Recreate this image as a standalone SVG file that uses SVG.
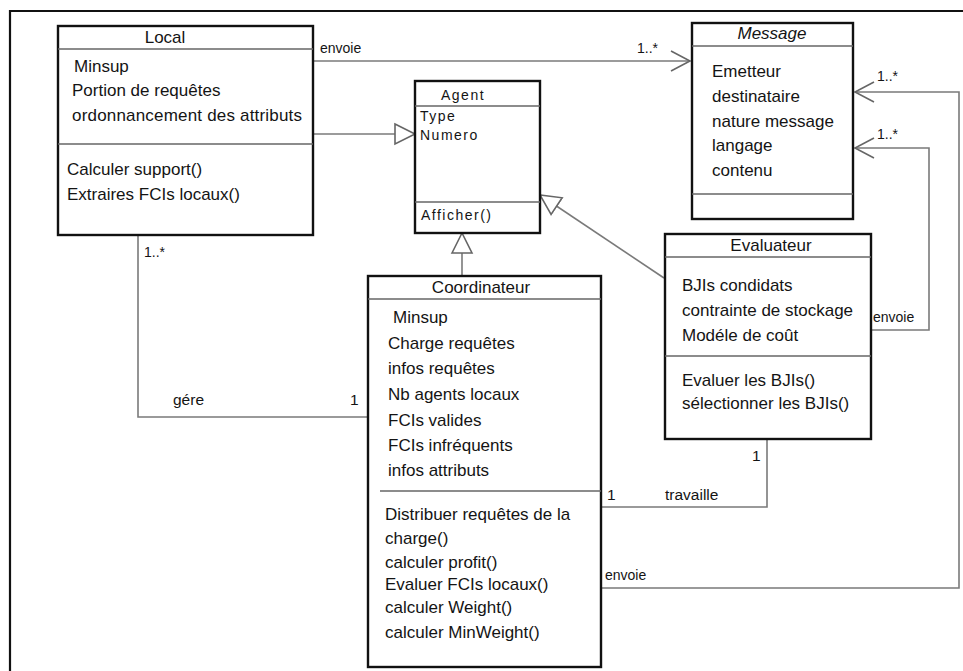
<svg xmlns="http://www.w3.org/2000/svg" width="963" height="671" viewBox="0 0 963 671">
  <defs>
    <style>
      .frame { fill: none; stroke: #111; stroke-width: 2.2; }
      .box { fill: #fff; stroke: #111; stroke-width: 2.4; }
      .div { stroke: #666; stroke-width: 1.6; }
      .conn { fill: none; stroke: #7a7a7a; stroke-width: 1.6; }
      .t { font-family: "Liberation Sans", Arial, sans-serif; font-size: 17px; fill: #141414; }
      .ti { font-family: "Liberation Sans", Arial, sans-serif; font-size: 17px; fill: #141414; font-style: italic; }
      .ag { font-family: "Liberation Sans", Arial, sans-serif; font-size: 14px; letter-spacing: 1.5px; fill: #141414; }
      .lbl { font-family: "Liberation Sans", Arial, sans-serif; font-size: 14px; fill: #141414; }
      .lbl2 { font-family: "Liberation Sans", Arial, sans-serif; font-size: 15.5px; fill: #141414; }
      .mid { text-anchor: middle; }
    </style>
    <!-- hollow triangle for generalization -->
    <marker id="gen" markerUnits="userSpaceOnUse" markerWidth="24" markerHeight="24" refX="20" refY="11" orient="auto" viewBox="-1 0 24 22">
      <path d="M0,1 L20,11 L0,21 Z" fill="#fff" stroke="#666" stroke-width="1.6"/>
    </marker>
    <!-- open arrowhead for navigable association -->
    <marker id="open" markerUnits="userSpaceOnUse" markerWidth="24" markerHeight="24" refX="19" refY="11" orient="auto" viewBox="-1 0 24 22">
      <path d="M0,1 L19,11 L0,21" fill="none" stroke="#666" stroke-width="1.6"/>
    </marker>
  </defs>

  <rect width="963" height="671" fill="#fff"/>
  <path class="frame" d="M10,671 V11 H963"/>

  <g id="connectors">
    <path class="conn" d="M313,61 H690" marker-end="url(#open)"/>
    <path class="conn" d="M313,134 H415" marker-end="url(#gen)"/>
    <path class="conn" d="M664,278 L540,195" marker-end="url(#gen)"/>
    <path class="conn" d="M462,276 V233" marker-end="url(#gen)"/>
    <path class="conn" d="M138,235 V417 H368"/>
    <path class="conn" d="M767,439 V507 H601"/>
    <path class="conn" d="M601,588 H959 V92 H855" marker-end="url(#open)"/>
    <path class="conn" d="M871,330 H929 V148 H855" marker-end="url(#open)"/>

    <text class="lbl" x="320" y="53">envoie</text>
    <text class="lbl" x="637" y="53">1..*</text>
    <text class="lbl" x="877" y="81">1..*</text>
    <text class="lbl" x="877" y="139">1..*</text>
    <text class="lbl" x="873" y="322">envoie</text>
    <text class="lbl" x="144" y="257">1..*</text>
    <text class="lbl2" x="173" y="405">gére</text>
    <text class="lbl2" x="350" y="405">1</text>
    <text class="lbl2" x="752" y="461">1</text>
    <text class="lbl2" x="607" y="500">1</text>
    <text class="lbl2" x="665" y="500">travaille</text>
    <text class="lbl" x="605" y="580">envoie</text>
  </g>

  <g id="local">
    <rect class="box" x="58" y="26" width="255" height="209"/>
    <line class="div" x1="58" y1="49" x2="313" y2="49"/>
    <line class="div" x1="58" y1="144" x2="313" y2="144"/>
    <text class="t mid" x="165" y="43">Local</text>
    <text class="t" x="74" y="72">Minsup</text>
    <text class="t" x="72" y="96">Portion de requêtes</text>
    <text class="t" x="72" y="121" textLength="230">ordonnancement des attributs</text>
    <text class="t" x="67" y="175">Calculer support()</text>
    <text class="t" x="67" y="200">Extraires FCIs locaux()</text>
  </g>

  <g id="agent">
    <rect class="box" x="415" y="81" width="125" height="152"/>
    <line class="div" x1="415" y1="106" x2="540" y2="106"/>
    <line class="div" x1="415" y1="202" x2="540" y2="202"/>
    <text class="ag" x="441" y="100">Agent</text>
    <text class="ag" x="420" y="121">Type</text>
    <text class="ag" x="420" y="140">Numero</text>
    <text class="ag" x="421" y="220">Afficher()</text>
  </g>

  <g id="message">
    <rect class="box" x="692" y="23" width="161" height="196"/>
    <line class="div" x1="692" y1="46" x2="853" y2="46"/>
    <line class="div" x1="692" y1="194" x2="853" y2="194"/>
    <text class="ti mid" x="772" y="39">Message</text>
    <text class="t" x="712" y="77">Emetteur</text>
    <text class="t" x="712" y="102">destinataire</text>
    <text class="t" x="712" y="127">nature message</text>
    <text class="t" x="712" y="151">langage</text>
    <text class="t" x="712" y="176">contenu</text>
  </g>

  <g id="evaluateur">
    <rect class="box" x="665" y="234" width="206" height="205"/>
    <line class="div" x1="665" y1="257" x2="871" y2="257"/>
    <line class="div" x1="665" y1="356" x2="871" y2="356"/>
    <text class="t mid" x="771" y="251">Evaluateur</text>
    <text class="t" x="682" y="291">BJIs condidats</text>
    <text class="t" x="682" y="316">contrainte de stockage</text>
    <text class="t" x="682" y="341">Modéle de coût</text>
    <text class="t" x="682" y="386">Evaluer les BJIs()</text>
    <text class="t" x="682" y="409">sélectionner les BJIs()</text>
  </g>

  <g id="coordinateur">
    <rect class="box" x="368" y="276" width="233" height="391"/>
    <line class="div" x1="368" y1="299" x2="601" y2="299"/>
    <line class="div" x1="380" y1="491" x2="601" y2="491"/>
    <text class="t mid" x="481" y="293">Coordinateur</text>
    <text class="t" x="393" y="323">Minsup</text>
    <text class="t" x="388" y="349">Charge requêtes</text>
    <text class="t" x="388" y="374">infos requêtes</text>
    <text class="t" x="388" y="400">Nb agents locaux</text>
    <text class="t" x="388" y="426">FCIs valides</text>
    <text class="t" x="388" y="451">FCIs infréquents</text>
    <text class="t" x="388" y="476">infos attributs</text>
    <text class="t" x="385" y="520">Distribuer requêtes de la</text>
    <text class="t" x="385" y="544">charge()</text>
    <text class="t" x="385" y="568">calculer profit()</text>
    <text class="t" x="385" y="590">Evaluer FCIs locaux()</text>
    <text class="t" x="385" y="613">calculer Weight()</text>
    <text class="t" x="385" y="638">calculer MinWeight()</text>
  </g>
</svg>
